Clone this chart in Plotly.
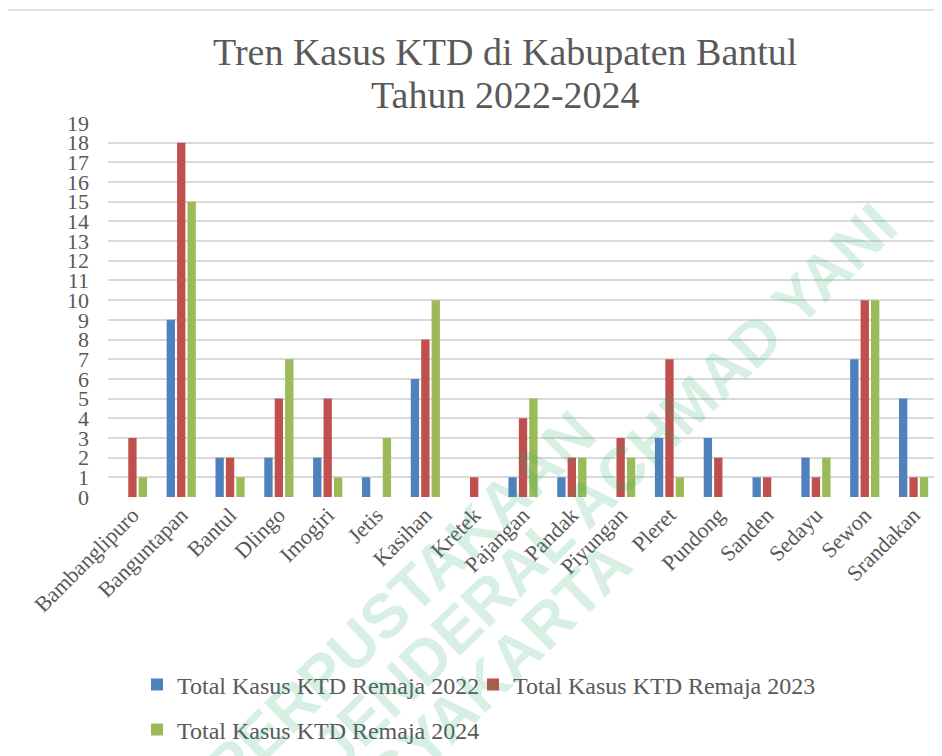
import plotly.graph_objects as go

categories = ["Bambanglipuro", "Banguntapan", "Bantul", "Dlingo", "Imogiri", "Jetis",
              "Kasihan", "Kretek", "Pajangan", "Pandak", "Piyungan", "Pleret",
              "Pundong", "Sanden", "Sedayu", "Sewon", "Srandakan"]
kasus_2022 = [0, 9, 2, 2, 2, 1, 6, 0, 1, 1, 0, 3, 3, 1, 2, 7, 5]
kasus_2023 = [3, 18, 2, 5, 5, 0, 8, 1, 4, 2, 3, 7, 2, 1, 1, 10, 1]
kasus_2024 = [1, 15, 1, 7, 1, 3, 10, 0, 5, 2, 2, 1, 0, 0, 2, 10, 1]
series_names = ["Total Kasus KTD Remaja 2022", "Total Kasus KTD Remaja 2023",
                "Total Kasus KTD Remaja 2024"]
y_ticks = list(range(0, 20))
title_lines = ["Tren Kasus KTD di Kabupaten Bantul", "Tahun 2022-2024"]

# page body has an 8px margin; work in reference pixel coords and offset
OFF = 8
W, H = 942 - OFF, 756 - OFF
L, R, T, B = 108 - OFF, 938 - OFF, 123 - OFF, 497 - OFF

def px(x):
    return (x - OFF - L) / (R - L)

def py(y):
    return (B - (y - OFF)) / (B - T)

FONT = "Liberation Serif"
TXT = "#595959"
colors = ["#4F81BD", "#C0504D", "#9BBB59"]

fig = go.Figure()
legends = ["legend", "legend2", "legend3"]
for name, vals, c, lg in zip(series_names, [kasus_2022, kasus_2023, kasus_2024], colors, legends):
    fig.add_trace(go.Bar(x=categories, y=vals, name=name, legend=lg, showlegend=True,
                         marker=dict(color=c, line=dict(width=0))))

annotations = []
# title
for t, y in zip(title_lines, [52, 95]):
    annotations.append(dict(text=t, x=px(505), y=py(y), xref="paper", yref="paper",
                            showarrow=False, xanchor="center", yanchor="middle",
                            font=dict(family=FONT, size=38, color=TXT)))
# watermark
wm = [("PERPUSTAKAAN", 400, 600), ("JENDERAL ACHMAD YANI", 604, 486), ("YOGYAKARTA", 465, 702)]
for t, x, y in wm:
    annotations.append(dict(text=t, x=px(x), y=py(y), xref="paper", yref="paper",
                            showarrow=False, textangle=-44,
                            font=dict(family="Liberation Sans", size=62,
                                      color="rgba(40,165,105,0.18)", weight="bold"),
                            xanchor="center", yanchor="middle"))

legend_common = dict(orientation="h", xanchor="left", yanchor="middle", visible=True,
                     font=dict(family=FONT, size=24, color=TXT), bgcolor="rgba(0,0,0,0)",
                     traceorder="normal", itemwidth=30)

fig.update_layout(
    width=W, height=H,
    showlegend=True,
    margin=dict(l=L, r=W - R, t=T, b=H - B),
    paper_bgcolor="white", plot_bgcolor="white",
    barmode="group", bargap=0.36, bargroupgap=0.2,
    xaxis=dict(tickangle=-45, tickfont=dict(family=FONT, size=22, color=TXT),
               showgrid=False, showline=False, ticks=""),
    yaxis=dict(range=[0, 19], tickvals=y_ticks, ticktext=[str(v) for v in y_ticks],
               showgrid=True, gridcolor="#d9d9d9", gridwidth=1.5,
               zeroline=False, showline=False, ticks="",
               tickfont=dict(family=FONT, size=22, color=TXT), ticklabelstandoff=18),
    legend=dict(x=px(137), y=py(685), **legend_common),
    legend2=dict(x=px(473), y=py(685), **legend_common),
    legend3=dict(x=px(137), y=py(730), **legend_common),
    annotations=annotations,
    shapes=[
        dict(type="line", xref="paper", yref="paper", x0=px(6), x1=px(942), y0=py(10), y1=py(10),
             line=dict(color="#d9d9d9", width=1.5)),
        dict(type="line", xref="paper", yref="paper", x0=px(7), x1=px(7), y0=py(10), y1=py(756),
             line=dict(color="#d9d9d9", width=1.5)),
    ],
)

fig.write_html("out.html")
